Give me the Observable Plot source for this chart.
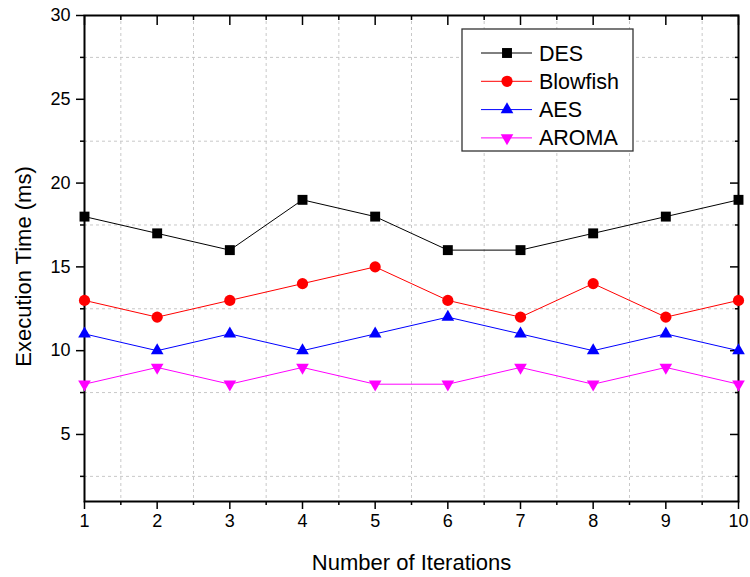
<!DOCTYPE html>
<html><head><meta charset="utf-8">
<script src="https://cdn.jsdelivr.net/npm/d3@7"></script>
<script src="https://cdn.jsdelivr.net/npm/@observablehq/plot@0.6"></script>
<style>body{margin:0;background:#fff;font-family:"Liberation Sans",Arial,sans-serif;}</style>
</head><body><div id="chart"></div>
<script>
const iterations = [1,2,3,4,5,6,7,8,9,10];
const des = [18,17,16,19,18,16,16,17,18,19];
const blowfish = [13,12,13,14,15,13,12,14,12,13];
const aes = [11,10,11,10,11,12,11,10,11,10];
const aroma = [8,9,8,9,8,8,9,8,9,8];
const seriesNames = ["DES","Blowfish","AES","AROMA"];
const seriesColors = ["#000000","#ff0000","#0000ff","#ff00ff"];
const seriesSymbols = ["square","circle","triangle","triangle"];
const seriesRotate = [0,0,0,180];
const seriesR = [5.6,5.6,4.7,4.7];
const xMajor = [1,2,3,4,5,6,7,8,9,10];
const xMinor = [1.5,2.5,3.5,4.5,5.5,6.5,7.5,8.5,9.5];
const yMajor = [5,10,15,20,25,30];
const yMinor = [2.5,7.5,12.5,17.5,22.5,27.5];
const xLabel = "Number of Iterations";
const yLabel = "Execution Time (ms)";

const allValues = [des, blowfish, aes, aroma];
const rows = [];
seriesNames.forEach((s, si) => iterations.forEach((it, i) => rows.push({x: it, y: allValues[si][i], series: s})));

const gridStyle = {stroke: "#c8c8c8", strokeOpacity: 1, strokeDasharray: "3,3", strokeWidth: 1};
const marks = [
  Plot.gridX(xMinor, gridStyle),
  Plot.gridY(yMinor, gridStyle),
  Plot.axisY(yMajor, {anchor: "left", tickSize: 8, tickPadding: 6, fontSize: 18, label: null, strokeWidth: 1.5}),
  Plot.axisY(yMinor, {anchor: "left", tickSize: 4, tickFormat: () => "", label: null, strokeWidth: 1.5}),
  Plot.axisY(yMajor, {anchor: "right", tickSize: -9, tickFormat: () => "", label: null, strokeWidth: 1.5}),
  Plot.axisY(yMinor, {anchor: "right", tickSize: -4, tickFormat: () => "", label: null, strokeWidth: 1.5}),
  Plot.axisX(xMajor, {anchor: "bottom", tickSize: 8, tickPadding: 5, fontSize: 18, label: null, strokeWidth: 1.5}),
  Plot.axisX(xMinor, {anchor: "bottom", tickSize: 4, tickFormat: () => "", label: null, strokeWidth: 1.5}),
  Plot.axisX(xMajor, {anchor: "top", tickSize: -9, tickFormat: () => "", label: null, strokeWidth: 1.5}),
  Plot.axisX(xMinor, {anchor: "top", tickSize: -4, tickFormat: () => "", label: null, strokeWidth: 1.5}),
  Plot.frame({stroke: "#000", strokeWidth: 2}),
  Plot.line(rows, {x: "x", y: "y", z: "series", stroke: "series", strokeWidth: 1}),
  ...seriesNames.map((s, si) => Plot.dot(rows.filter(d => d.series === s), {
    x: "x", y: "y", symbol: seriesSymbols[si], fill: seriesColors[si], stroke: "none", r: seriesR[si], rotate: seriesRotate[si]
  })),
  Plot.text([xLabel], {frameAnchor: "bottom", dy: 61, fontSize: 22, fill: "#000", lineAnchor: "middle", textAnchor: "middle"}),
  Plot.text([yLabel], {frameAnchor: "left", dx: -61, dy: 8, rotate: -90, fontSize: 22, fill: "#000", textAnchor: "middle", lineAnchor: "middle"})
];

const chart = Plot.plot({
  width: 750, height: 577,
  marginLeft: 84, marginRight: 12, marginTop: 15, marginBottom: 76,
  style: {fontFamily: "'Liberation Sans', Arial, sans-serif", color: "#000", background: "#fff", overflow: "visible"},
  x: {domain: [1, 10], axis: null},
  y: {domain: [1, 30], axis: null},
  color: {domain: seriesNames, range: seriesColors},
  marks
});

// legend inside the plot area
const svg = d3.select(chart);
const lg = svg.append("g").attr("transform", "translate(462,29)");
lg.append("rect").attr("width", 171).attr("height", 122).attr("fill", "#fff").attr("stroke", "#333").attr("stroke-width", 1.3);
seriesNames.forEach((s, i) => {
  const y = 24 + i * 28.3;
  const g = lg.append("g").attr("transform", `translate(0,${y})`);
  g.append("line").attr("x1", 19).attr("x2", 70).attr("stroke", seriesColors[i]).attr("stroke-width", 1);
  const size = Math.PI * seriesR[i] * seriesR[i];
  const sym = seriesSymbols[i] === "square" ? d3.symbolSquare : seriesSymbols[i] === "circle" ? d3.symbolCircle : d3.symbolTriangle;
  g.append("path").attr("d", d3.symbol(sym, size)()).attr("fill", seriesColors[i])
    .attr("transform", `translate(45,0) rotate(${seriesRotate[i]})`);
  g.append("text").attr("x", 77).attr("dy", "0.35em").attr("text-anchor", "start")
    .attr("font-size", 21.5).attr("fill", "#000").text(s);
});

document.getElementById("chart").appendChild(chart);
</script>
</body></html>
